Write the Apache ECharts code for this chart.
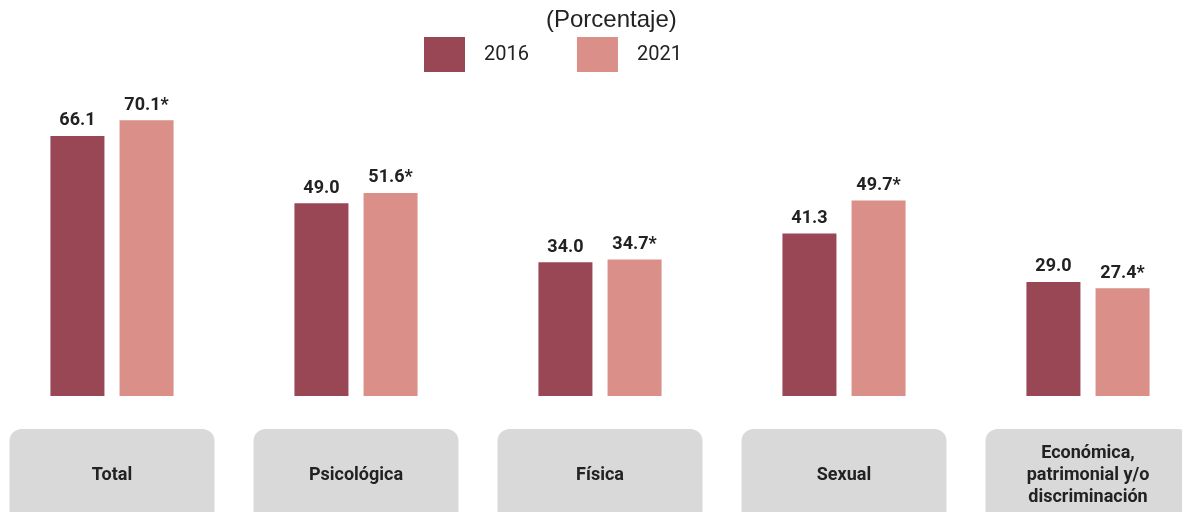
<!DOCTYPE html>
<html>
<head>
<meta charset="utf-8">
<script src="https://cdn.jsdelivr.net/npm/echarts@6/dist/echarts.min.js"></script>
<style>
  html, body { margin: 0; padding: 0; background: #fff; }
  #chart { width: 1182px; height: 512px; }
</style>
</head>
<body>
<div id="chart"></div>
<script>
const categories = ["Total", "Psicológica", "Física", "Sexual", "Económica,\npatrimonial y/o\ndiscriminación"];
const years = ["2016", "2021"];
const values2016 = [66.1, 49.0, 34.0, 41.3, 29.0];
const values2021 = [70.1, 51.6, 34.7, 49.7, 27.4];
const labels2016 = ["66.1", "49.0", "34.0", "41.3", "29.0"];
const labels2021 = ["70.1*", "51.6*", "34.7*", "49.7*", "27.4*"];

const colors = ["#9a4755", "#da8f88"];
const chart = echarts.init(document.getElementById("chart"));

function makeSeries(name, values, labels, i) {
  return {
    name: name,
    type: "bar",
    data: values,
    barWidth: 54,
    barGap: "28%",
    itemStyle: { color: colors[i] },
    label: {
      show: true,
      position: "top",
      distance: 6,
      fontFamily: "Roboto",
      fontWeight: "bold",
      fontSize: 18,
      color: "#222",
      formatter: (p) => labels[p.dataIndex]
    }
  };
}

chart.setOption({
  animation: false,
  title: {
    text: "(Porcentaje)",
    left: 541,
    top: 3,
    textStyle: { fontFamily: "Liberation Sans", fontWeight: "normal", fontSize: 24, color: "#222" }
  },
  legend: {
    data: years,
    top: 32,
    left: 419,
    itemWidth: 41,
    itemHeight: 35,
    itemGap: 48,
    icon: "rect",
    textStyle: { fontFamily: "Roboto", fontSize: 20, color: "#222", padding: [0, 0, 0, 14] }
  },
  grid: { left: -10, right: -28, top: 2.5, bottom: 116, outerBoundsMode: "none" },
  xAxis: {
    type: "category",
    data: categories,
    axisLine: { show: false },
    axisTick: { show: false },
    axisLabel: {
      margin: 33,
      interval: 0,
      width: 205,
      height: 90,
      backgroundColor: "#d9d9d9",
      borderRadius: 12,
      align: "center",
      verticalAlign: "top",
      lineHeight: 22,
      padding: [13, 0, 0, 0],
      fontFamily: "Roboto",
      fontWeight: "bold",
      fontSize: 18,
      color: "#222",
      // single-line names go on the middle of three lines so they sit centred in the box
      formatter: (v) => v.indexOf("\n") < 0 ? " \n" + v + "\n " : v
    }
  },
  yAxis: { type: "value", min: 0, max: 100, show: false },
  series: [
    makeSeries(years[0], values2016, labels2016, 0),
    makeSeries(years[1], values2021, labels2021, 1)
  ]
});
</script>
</body>
</html>
